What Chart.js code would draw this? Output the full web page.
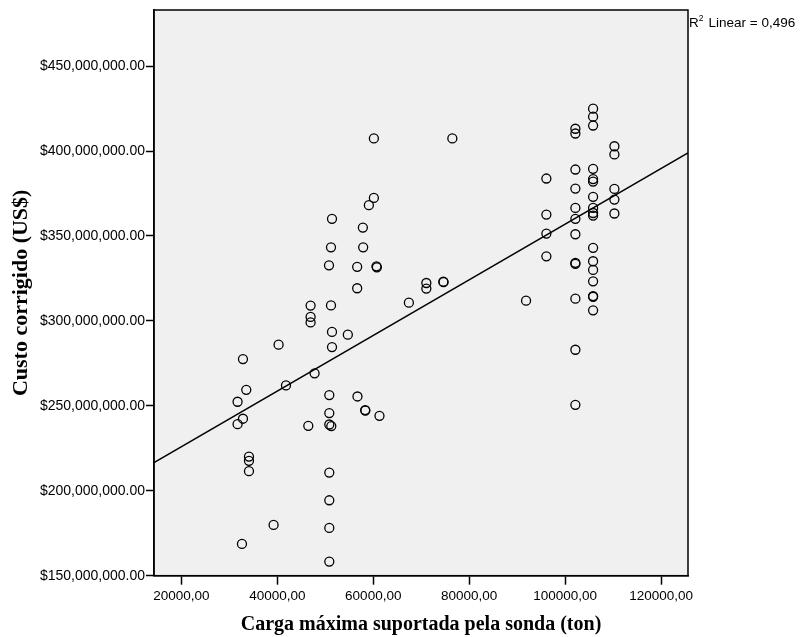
<!DOCTYPE html>
<html>
<head>
<meta charset="utf-8">
<script src="https://cdn.jsdelivr.net/npm/chart.js@4.4.1/dist/chart.umd.min.js"></script>
<style>
  html, body { margin: 0; padding: 0; background: #ffffff; }
  #wrap { width: 800px; height: 637px; position: relative; }
</style>
</head>
<body>
<div id="wrap"><canvas id="grafico"></canvas></div>
<script>
// Carga máxima (ton) de cada sonda
const cargaX = [
    32635, 31718, 31718, 32844, 32844, 33532, 34095, 34095, 34095, 39224,
    40266, 41809, 47772, 46459, 46938, 46938, 46938, 51400, 51190, 50774,
    51190, 51400, 51400, 50837, 50837, 50837, 51254, 50837, 50837, 50837,
    50837, 54700, 56708, 56646, 56646, 57834, 57897, 58314, 58350, 59086,
    60128, 60128, 60670, 60750, 61296, 67425, 71062, 71062, 74606, 74650,
    76482, 91848,
    96082, 96082, 96082, 96082,
    102128, 102128, 102128, 102128, 102128, 102128, 102128, 102128, 102128, 102128, 102128, 102128,
    105819, 105819, 105819, 105819, 105819, 105819, 105819, 105819, 105819, 105819,
    105819, 105819, 105819, 105819, 105819, 105819, 105819,
    110260, 110260, 110260, 110260, 110260
];

// Custo corrigido (milhões de US$)
const custoY = [
    168.7, 252.4, 239.2, 242.4, 277.5, 259.4, 220.1, 217.6, 211.5, 179.9,
    286.0, 262.0, 269.1, 238.2, 309.0, 302.3, 299.1, 360.1, 343.3, 332.7,
    309.1, 293.5, 284.6, 256.3, 245.7, 239.0, 238.1, 210.7, 194.4, 178.1,
    158.3, 291.9, 255.5, 331.8, 319.2, 354.9, 343.3, 247.5, 247.2, 368.1,
    372.4, 407.4, 332.1, 331.5, 244.1, 310.7, 322.3, 319.0, 323.1, 322.8,
    407.4, 311.9,
    383.8, 362.6, 351.4, 338.0,
    413.1, 410.3, 389.1, 377.9, 366.5, 360.1, 351.0, 334.2, 333.5, 313.1, 283.0, 250.6,
    424.9, 420.2, 415.0, 389.5, 383.5, 382.0, 373.0, 366.5, 363.5, 362.0,
    343.0, 335.1, 330.0, 323.3, 314.6, 314.2, 306.2,
    402.8, 398.0, 377.7, 371.4, 363.2
];

// Reta de regressão linear (extremos do eixo X)
const retaX = [14300, 125600];
const retaY = [216.6, 398.9];
const r2Texto = 'Linear = 0,496';

// Marcas dos eixos
const xTicks = [20000, 40000, 60000, 80000, 100000, 120000];
const yTicks = [150, 200, 250, 300, 350, 400, 450];
const xMin = 14300, xMax = 125600;
const yMin = 150, yMax = 483;

const pontos = cargaX.map((x, i) => ({ x: x, y: custoY[i] }));
const reta = retaX.map((x, i) => ({ x: x, y: retaY[i] }));

// Fundo cinza e moldura da área do gráfico
const molduraPlugin = {
    id: 'moldura',
    beforeDraw(chart) {
        const a = chart.chartArea;
        const ctx = chart.ctx;
        ctx.save();
        ctx.fillStyle = '#f0f0f0';
        ctx.fillRect(a.left, a.top, a.right - a.left, a.bottom - a.top);
        ctx.restore();
    },
    afterDraw(chart) {
        const a = chart.chartArea;
        const ctx = chart.ctx;
        ctx.save();
        ctx.strokeStyle = '#000';
        ctx.lineWidth = 1.5;
        ctx.strokeRect(a.left, a.top, a.right - a.left, a.bottom - a.top);
        // texto do R²
        ctx.fillStyle = '#000';
        ctx.textBaseline = 'alphabetic';
        ctx.font = '13.5px "Liberation Sans", Arial, sans-serif';
        let x = a.right + 1;
        ctx.fillText('R', x, 27);
        x += ctx.measureText('R').width;
        ctx.font = '8.5px "Liberation Sans", Arial, sans-serif';
        ctx.fillText('2', x, 21);
        x += ctx.measureText('2').width + 5;
        ctx.font = '13.5px "Liberation Sans", Arial, sans-serif';
        ctx.fillText(r2Texto, x, 27);
        ctx.restore();
    }
};

new Chart(document.getElementById('grafico'), {
    type: 'scatter',
    data: {
        datasets: [
            {
                label: 'Custo',
                data: pontos,
                pointStyle: 'circle',
                pointRadius: 4.5,
                pointBorderWidth: 1.3,
                pointBorderColor: '#000',
                pointBackgroundColor: 'rgba(0,0,0,0)'
            },
            {
                label: 'Linear',
                type: 'line',
                data: reta,
                borderColor: '#000',
                borderWidth: 1.5,
                pointRadius: 0,
                fill: false
            }
        ]
    },
    options: {
        responsive: true,
        maintainAspectRatio: false,
        animation: false,
        layout: { padding: { top: 10, right: 112, left: 0, bottom: 0 } },
        plugins: {
            legend: { display: false },
            tooltip: { enabled: false }
        },
        scales: {
            x: {
                type: 'linear',
                min: xMin,
                max: xMax,
                afterBuildTicks: (scale) => { scale.ticks = xTicks.map(v => ({ value: v })); },
                afterFit: (scale) => { scale.height = 61.3; },
                border: { display: true, color: '#000', width: 1.5 },
                grid: { drawOnChartArea: false, drawTicks: true, tickLength: 9, tickColor: '#000', tickWidth: 1.5 },
                ticks: {
                    color: '#000',
                    padding: 3,
                    maxRotation: 0,
                    font: { family: '"Liberation Sans", Arial, sans-serif', size: 13.5 },
                    callback: (v) => v.toFixed(2).replace('.', ',')
                },
                title: {
                    display: true,
                    text: 'Carga máxima suportada pela sonda (ton)',
                    color: '#000',
                    font: { family: '"Liberation Serif", "Times New Roman", serif', size: 20, weight: 'bold' },
                    padding: { top: 4, bottom: 0 }
                }
            },
            y: {
                type: 'linear',
                min: yMin,
                max: yMax,
                afterBuildTicks: (scale) => { scale.ticks = yTicks.map(v => ({ value: v })); },
                afterFit: (scale) => { scale.width = 154; },
                border: { display: true, color: '#000', width: 1.5 },
                grid: { drawOnChartArea: false, drawTicks: true, tickLength: 8, tickColor: '#000', tickWidth: 1.5 },
                ticks: {
                    color: '#000',
                    padding: 1,
                    font: { family: '"Liberation Sans", Arial, sans-serif', size: 14 },
                    callback: (v) => '$' + (v * 1e6).toLocaleString('en-US', { minimumFractionDigits: 2, maximumFractionDigits: 2 })
                },
                title: {
                    display: true,
                    text: 'Custo corrigido (US$)',
                    color: '#000',
                    font: { family: '"Liberation Serif", "Times New Roman", serif', size: 22, weight: 'bold' },
                    padding: { top: 8, bottom: 0 }
                }
            }
        }
    },
    plugins: [molduraPlugin]
});
</script>
</body>
</html>
